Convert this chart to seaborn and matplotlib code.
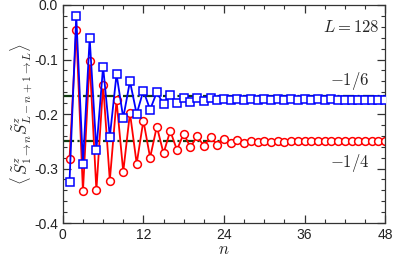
import numpy as np
import pandas as pd
import matplotlib
matplotlib.use("Agg")
import matplotlib.pyplot as plt
import seaborn as sns

# site index n and the two correlation series
n_sites = list(range(1, 49))
red_vals = [-0.283, -0.045, -0.342, -0.102, -0.340, -0.146, -0.322, -0.175,
            -0.306, -0.198, -0.291, -0.212, -0.280, -0.223, -0.272, -0.231,
            -0.266, -0.236, -0.261, -0.241, -0.258, -0.243, -0.256, -0.245,
            -0.254, -0.247, -0.253, -0.249, -0.251, -0.249, -0.251, -0.2495,
            -0.2505, -0.2497, -0.2503, -0.2497, -0.2502, -0.2497, -0.2501, -0.2497,
            -0.2500, -0.2497, -0.2500, -0.2497, -0.2499, -0.2497, -0.2498, -0.2497]
blue_vals = [-0.324, -0.020, -0.291, -0.061, -0.266, -0.113, -0.242, -0.127,
             -0.207, -0.140, -0.200, -0.157, -0.192, -0.160, -0.182, -0.165,
             -0.180, -0.170, -0.178, -0.171, -0.176, -0.171, -0.175, -0.172,
             -0.174, -0.1725, -0.1737, -0.1730, -0.1736, -0.1731, -0.1735, -0.1732,
             -0.1735, -0.1733, -0.1734, -0.1733, -0.1734, -0.1733, -0.1734, -0.1733,
             -0.1734, -0.1734, -0.1734, -0.1734, -0.1734, -0.1734, -0.1734, -0.1734]
ref_levels = [-1 / 6, -1 / 4]
ref_labels = [r"$-1/6$", r"$-1/4$"]

df = pd.DataFrame({"n": n_sites, "red": red_vals, "blue": blue_vals})

sns.set_style("ticks")
plt.rcParams["font.family"] = ["Liberation Sans", "DejaVu Sans"]
plt.rcParams["mathtext.fontset"] = "cm"

fig = plt.figure(figsize=(3.95, 2.63), dpi=100)
ax = fig.add_axes([0.159, 0.152, 0.816, 0.829])

# reference levels
for lv in ref_levels:
    ax.axhline(lv, color="#123d12", lw=1.6, ls=(0, (5, 1.5, 1, 1.5)), zorder=1)

sns.lineplot(data=df, x="n", y="red", ax=ax, color="red", lw=1.3,
             marker="o", markersize=5.6, markerfacecolor="white",
             markeredgecolor="red", markeredgewidth=1.1, zorder=2)
sns.lineplot(data=df, x="n", y="blue", ax=ax, color="blue", lw=1.3,
             marker="s", markersize=5.6, markerfacecolor="white",
             markeredgecolor="blue", markeredgewidth=1.1, zorder=3)

ax.set_xlim(0, 48)
ax.set_ylim(-0.4, 0.0)
ax.set_xticks([0, 12, 24, 36, 48])
ax.set_xticks(np.arange(0, 49, 3), minor=True)
ax.set_yticks([0.0, -0.1, -0.2, -0.3, -0.4])
ax.set_yticklabels(["0.0", "-0.1", "-0.2", "-0.3", "-0.4"])
ax.set_yticks(np.arange(-0.4, 0.001, 0.02), minor=True)
ax.tick_params(which="both", direction="in", top=True, right=True,
               colors="#333333", labelcolor="#222222", labelsize=10)
ax.tick_params(which="major", length=6, width=0.9)
ax.tick_params(which="minor", length=3, width=0.8)
for sp in ax.spines.values():
    sp.set_color("#333333")
    sp.set_linewidth(0.9)

ax.set_xlabel(r"$n$", fontsize=12, labelpad=0)
ax.set_ylabel(r"$\langle\,\tilde{S}^z_{1\to n}\tilde{S}^z_{L-n+1\to L}\rangle$",
              fontsize=12, labelpad=-1)

ax.text(47.2, -0.040, r"$L=128$", fontsize=12, ha="right", va="center")
ax.text(45.7, -0.139, ref_labels[0], fontsize=12, ha="right", va="center")
ax.text(45.7, -0.290, ref_labels[1], fontsize=12, ha="right", va="center")

plt.savefig("out.png", dpi=100)
